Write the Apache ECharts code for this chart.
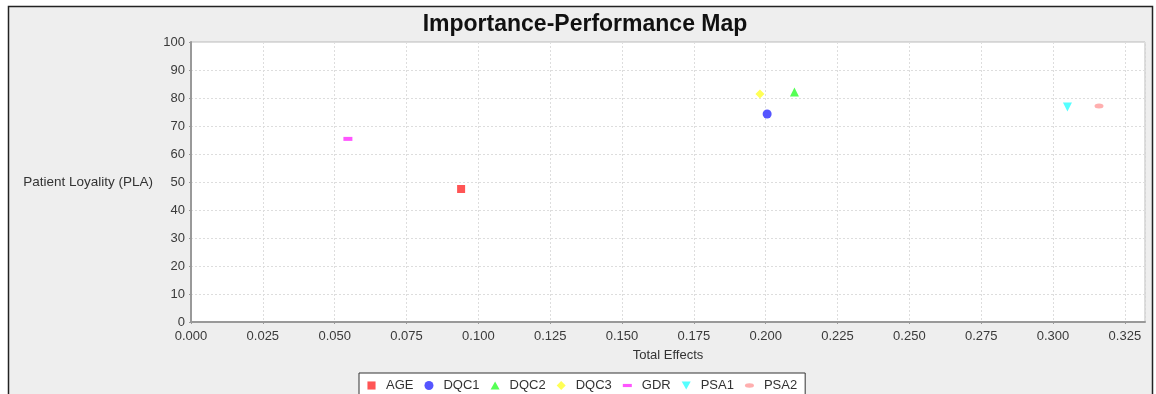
<!DOCTYPE html>
<html>
<head>
<meta charset="utf-8">
<script src="https://cdn.jsdelivr.net/npm/echarts@6/dist/echarts.min.js"></script>
<style>
  html, body { margin: 0; padding: 0; background: #fff; }
  #chart { width: 1156px; height: 394px; }
</style>
</head>
<body>
<div id="chart"></div>
<script>
// constructs and their (total effect, performance) pairs
const constructs = ['AGE', 'DQC1', 'DQC2', 'DQC3', 'GDR', 'PSA1', 'PSA2'];
const totalEffects = [0.094, 0.2005, 0.210, 0.198, 0.0546, 0.305, 0.316];
const performance = [47.5, 74.3, 82.1, 81.4, 65.4, 76.8, 77.1];

// JFreeChart-ish default palette and shapes
const colors = ['#ff5555', '#5555ff', '#55ff55', '#ffff55', '#ff55ff', '#55ffff', '#ffafaf'];
const ellipse = 'path://M0,5a10,5 0 1,0 20,0a10,5 0 1,0 -20,0z';
const shapes = [
  { symbol: 'rect', size: 8 },
  { symbol: 'circle', size: 9 },
  { symbol: 'triangle', size: 9 },
  { symbol: 'diamond', size: 9 },
  { symbol: 'rect', size: [9, 4] },
  { symbol: 'triangle', size: 9, rotate: 180 },
  { symbol: ellipse, size: [9, 5] }
];
// legend icons drawn in a square box, padded so the flat ones stay flat
const legendIcons = [
  'path://M0,0M20,20M1,1h18v18h-18z',
  'circle',
  'path://M0,0M20,20M10,1L20,19L0,19z',
  'diamond',
  'path://M0,0M20,20M0,6.5h20v7h-20z',
  'path://M0,0M20,20M10,19L20,1L0,1z',
  'path://M0,0M20,20M0,10a10,5 0 1,0 20,0a10,5 0 1,0 -20,0z'
];

const chart = echarts.init(document.getElementById('chart'));

const series = constructs.map((name, i) => ({
  name: name,
  type: 'scatter',
  data: [[totalEffects[i], performance[i]]],
  symbol: shapes[i].symbol,
  symbolSize: shapes[i].size,
  symbolRotate: shapes[i].rotate || 0,
  itemStyle: { color: colors[i], opacity: 1 }
}));

const font = 'Liberation Sans, Arial, sans-serif';

const option = {
  animation: false,
  backgroundColor: '#ffffff',
  textStyle: { fontFamily: font },
  graphic: [
    {
      type: 'rect',
      z: -10,
      silent: true,
      shape: { x: 8.5, y: 6.5, width: 1144, height: 400 },
      style: { fill: '#eeeeee', stroke: '#222222', lineWidth: 1.5 }
    }
  ],
  title: {
    text: 'Importance-Performance Map',
    left: 580,
    textAlign: 'center',
    top: 8,
    textStyle: { fontFamily: font, fontSize: 23, fontWeight: 'bold', color: '#111' }
  },
  legend: {
    top: 373,
    left: 359,
    itemWidth: 9,
    itemHeight: 9,
    itemGap: 11,
    padding: [6, 8, 18, 8],
    backgroundColor: '#ffffff',
    borderColor: '#333',
    borderWidth: 1,
    textStyle: { fontFamily: font, fontSize: 13, color: '#333', padding: [0, 0, 0, 5] },
    data: constructs.map((name, i) => ({ name: name, icon: legendIcons[i] }))
  },
  grid: {
    left: 191,
    top: 42,
    right: 11,
    bottom: 72,
    show: true,
    backgroundColor: '#ffffff',
    borderColor: '#bbbbbb',
    borderWidth: 1
  },
  xAxis: {
    type: 'value',
    min: 0,
    max: 0.332,
    interval: 0.025,
    name: 'Total Effects',
    nameLocation: 'middle',
    nameGap: 27,
    nameTextStyle: { fontFamily: font, fontSize: 13, color: '#333' },
    axisLine: { show: true, lineStyle: { color: '#999', width: 2 } },
    axisTick: { show: true, length: 2, lineStyle: { color: '#999' } },
    axisLabel: {
      showMaxLabel: false,
      margin: 8,
      fontFamily: font,
      fontSize: 13,
      color: '#3a3a3a',
      formatter: v => v.toFixed(3)
    },
    splitLine: { show: true, lineStyle: { color: '#dddddd', type: [2, 2] } }
  },
  yAxis: {
    type: 'value',
    min: 0,
    max: 100,
    interval: 10,
    name: 'Patient Loyality (PLA)',
    nameLocation: 'middle',
    nameRotate: 0,
    nameGap: 38,
    nameTextStyle: { fontFamily: font, fontSize: 13.5, color: '#333', align: 'right' },
    axisLine: { show: true, lineStyle: { color: '#999', width: 2 } },
    axisTick: { show: true, length: 2, lineStyle: { color: '#999' } },
    axisLabel: { margin: 6, fontFamily: font, fontSize: 13, color: '#3a3a3a' },
    splitLine: { show: true, lineStyle: { color: '#dddddd', type: [2, 2] } }
  },
  series: series
};

chart.setOption(option);
</script>
</body>
</html>
